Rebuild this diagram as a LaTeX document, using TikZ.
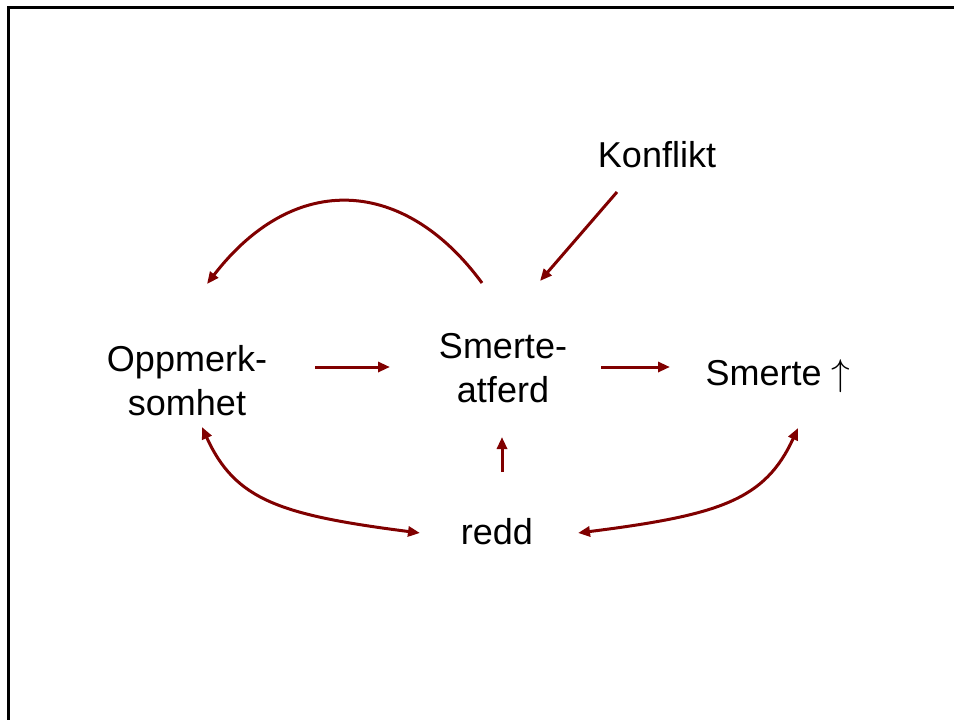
\documentclass[tikz,border=0pt]{standalone}
\usepackage{graphicx}
\usepackage{fontspec}
\setmainfont{Liberation Sans}
\usetikzlibrary{arrows.meta,calc}
\definecolor{arrowred}{HTML}{800000}
\newcommand{\tallup}{\scalebox{1.5}{$\uparrow$}}
\begin{document}
\begin{tikzpicture}[x=1pt,y=-1pt,
  lbl/.style={inner sep=0pt,align=center,font=\fontsize{36}{44}\selectfont},
  arr/.style={draw=arrowred,line width=3pt,-{Triangle[length=12pt,width=10pt]}},
  dblarr/.style={arr,{Triangle[length=12pt,width=10pt]}-{Triangle[length=12pt,width=10pt]}}]
  \useasboundingbox (0,0) rectangle (954,720);
  % open frame: left and top edges only
  \draw[line width=2.5pt] (8.5,740) -- (8.5,7.5) -- (980,7.5);

  % nodes
  \node[lbl] (kon) at (657,155) {Konflikt};
  \node[lbl] (opp) at (187,381) {Oppmerk-\\somhet};
  \node[lbl] (sa)  at (503,368) {Smerte-\\atferd};
  \node[lbl] (sm)  at (778,376) {Smerte \tallup};
  \node[lbl] (redd) at (497,532) {redd};

  % straight connectors
  \draw[arr] ($(opp)+(128,-14)$) -- ($(sa)+(-113,-1)$);
  \draw[arr] ($(sa)+(98,-1)$) -- ($(sm)+(-108,-9)$);
  \draw[arr] ($(redd)+(5,-60)$) -- ($(sa)+(-1,69)$);
  \draw[arr] ($(kon)+(-40,37)$) -- ($(sa)+(37,-87)$);

  % curved connectors
  \draw[arr] ($(sa)+(-21,-85)$) .. controls (405,178) and (295,170) .. ($(opp)+(20,-97)$);
  \draw[dblarr] ($(opp)+(15,46)$) .. controls (235,500) and (280,515) .. ($(redd)+(-77,1)$);
  \draw[dblarr] ($(sm)+(20,52)$) .. controls (765,500) and (720,515) .. ($(redd)+(81,1)$);
\end{tikzpicture}
\end{document}
